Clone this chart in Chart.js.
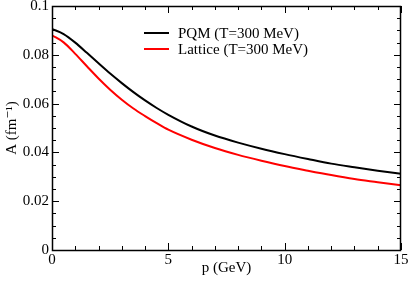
<!DOCTYPE html>
<html>
<head>
<meta charset="utf-8">
<script src="https://cdn.jsdelivr.net/npm/chart.js@4/dist/chart.umd.min.js"></script>
<style>
  html, body { margin: 0; padding: 0; background: #fff; }
  #wrap { width: 409px; height: 282px; }
</style>
</head>
<body>
<div id="wrap"><canvas id="grafico"></canvas></div>
<script>
// momentos (GeV) e valores de A (fm^-1)
var momentos = [0, 0.5, 1, 1.5, 2, 2.5, 3, 3.5, 4, 4.5, 5, 6, 7, 8, 9, 10, 11, 12, 13, 14, 15];
var valoresPQM = [0.0906, 0.0885, 0.0850, 0.0808, 0.0765, 0.0723, 0.0684, 0.0647, 0.0613, 0.0582, 0.0554, 0.0506, 0.0469, 0.0440, 0.0415, 0.0393, 0.0373, 0.0354, 0.0339, 0.0325, 0.0312];
var valoresLattice = [0.0880, 0.0851, 0.0804, 0.0753, 0.0703, 0.0657, 0.0616, 0.0580, 0.0549, 0.0520, 0.0493, 0.0452, 0.0418, 0.0390, 0.0366, 0.0344, 0.0325, 0.0307, 0.0291, 0.0278, 0.0265];
var nomesSeries = ["PQM (T=300 MeV)", "Lattice (T=300 MeV)"];
var coresSeries = ["#000000", "#ff0000"];
var xTickLabels = ["0", "5", "10", "15"];
var yTickLabels = ["0", "0.02", "0.04", "0.06", "0.08", "0.1"];

var fonte = "'Liberation Serif', 'DejaVu Serif', serif";

function pontos(ys) {
    var out = [];
    for (var i = 0; i < momentos.length; i++) out.push({ x: momentos[i], y: ys[i] });
    return out;
}

function ehMajor(v, passo) {
    var q = v / passo;
    return Math.abs(q - Math.round(q)) < 1e-6;
}

// moldura, marcas para dentro nos quatro lados, legenda
var molduraPlugin = {
    id: "moldura",
    afterDraw: function (chart) {
        var ctx = chart.ctx;
        var a = chart.chartArea;
        var sx = chart.scales.x, sy = chart.scales.y;
        ctx.save();
        ctx.strokeStyle = "#000";
        ctx.lineWidth = 1;
        ctx.beginPath();
        sx.ticks.forEach(function (t) {
            var px = Math.round(sx.getPixelForValue(t.value)) + 0.5;
            var len = ehMajor(t.value, 5) ? 7 : 4;
            ctx.moveTo(px, a.bottom); ctx.lineTo(px, a.bottom - len);
            ctx.moveTo(px, a.top); ctx.lineTo(px, a.top + len);
        });
        sy.ticks.forEach(function (t) {
            var py = Math.round(sy.getPixelForValue(t.value)) + 0.5;
            var len = ehMajor(t.value, 0.02) ? 7 : 4;
            ctx.moveTo(a.left, py); ctx.lineTo(a.left + len, py);
            ctx.moveTo(a.right, py); ctx.lineTo(a.right - len, py);
        });
        ctx.stroke();
        ctx.lineWidth = 1.5;
        ctx.strokeRect(Math.round(a.left) + 0.5, Math.round(a.top) + 0.5, Math.round(a.right - a.left) - 1, Math.round(a.bottom - a.top));

        // legenda
        ctx.font = "15px " + fonte;
        ctx.textBaseline = "middle";
        ctx.textAlign = "left";
        for (var i = 0; i < nomesSeries.length; i++) {
            var y = 33 + i * 16;
            ctx.strokeStyle = coresSeries[i];
            ctx.lineWidth = 2;
            ctx.beginPath();
            ctx.moveTo(144, y); ctx.lineTo(169, y);
            ctx.stroke();
            ctx.fillStyle = "#000";
            ctx.fillText(nomesSeries[i], 178, y + 1);
        }
        ctx.restore();
    }
};

new Chart(grafico.getContext("2d"), {
    type: "scatter",
    data: {
        datasets: [{
            label: nomesSeries[0],
            data: pontos(valoresPQM),
            borderColor: coresSeries[0],
            borderWidth: 2,
            showLine: true,
            pointRadius: 0,
            cubicInterpolationMode: "monotone"
        }, {
            label: nomesSeries[1],
            data: pontos(valoresLattice),
            borderColor: coresSeries[1],
            borderWidth: 2,
            showLine: true,
            pointRadius: 0,
            cubicInterpolationMode: "monotone"
        }]
    },
    options: {
        responsive: true,
        maintainAspectRatio: false,
        animation: false,
        layout: { padding: { top: 6, right: 8, left: 0, bottom: 0 } },
        plugins: { legend: { display: false }, tooltip: { enabled: false } },
        scales: {
            x: {
                type: "linear",
                min: 0, max: 15,
                grid: { display: false, drawTicks: false },
                border: { display: false },
                ticks: {
                    stepSize: 1,
                    autoSkip: false,
                    maxRotation: 0,
                    padding: 1,
                    color: "#000",
                    font: { family: fonte, size: 15 },
                    callback: function (v) { return ehMajor(v, 5) ? xTickLabels[Math.round(v / 5)] : ""; }
                },
                title: {
                    display: true,
                    text: "p (GeV)",
                    color: "#000",
                    font: { family: fonte, size: 15 },
                    padding: { top: 0, bottom: 5 }
                },
                afterFit: function (s) { s.height = 32; s.paddingLeft = 0; s.paddingRight = 0; }
            },
            y: {
                min: 0, max: 0.1,
                grid: { display: false, drawTicks: false },
                border: { display: false },
                ticks: {
                    stepSize: 0.005,
                    autoSkip: false,
                    padding: 3,
                    color: "#000",
                    font: { family: fonte, size: 15 },
                    callback: function (v) { return ehMajor(v, 0.02) ? yTickLabels[Math.round(v / 0.02)] : ""; }
                },
                title: {
                    display: true,
                    text: "A (fm\u207B\u00B9)",
                    color: "#000",
                    font: { family: fonte, size: 15 },
                    padding: { top: 3, bottom: 0 }
                },
                afterFit: function (s) { s.width = 52; s.paddingTop = 0; s.paddingBottom = 0; }
            }
        }
    },
    plugins: [molduraPlugin]
});
</script>
</body>
</html>
